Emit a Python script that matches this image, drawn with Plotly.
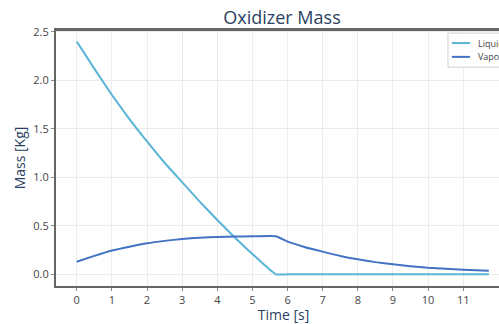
import plotly.graph_objects as go

# Time samples [s]
time_liq = [0, 0.5, 1, 1.5, 2, 2.5, 3, 3.5, 4, 4.5, 5, 5.67, 6, 7, 8, 9, 10, 11, 11.73]
liquid = [2.40, 2.12, 1.85, 1.60, 1.37, 1.15, 0.95, 0.75, 0.56, 0.38, 0.21, 0.0,
          0.0, 0.0, 0.0, 0.0, 0.0, 0.0, 0.0]

time_vap = [0, 0.5, 1, 1.5, 2, 2.5, 3, 3.5, 4, 4.5, 5, 5.67, 6, 6.5, 7, 7.5, 8, 8.5,
            9, 9.5, 10, 10.5, 11, 11.73]
vapor = [0.13, 0.19, 0.245, 0.285, 0.32, 0.345, 0.365, 0.378, 0.386, 0.39, 0.392,
         0.393, 0.337, 0.28, 0.234, 0.19, 0.155, 0.126, 0.103, 0.084, 0.068, 0.057, 0.048,
         0.037]

x_ticks = list(range(0, 12))
y_ticks = [0.0, 0.5, 1.0, 1.5, 2.0, 2.5]
series_names = ["Liquid", "Vapor"]
series_colors = ["#5ab4d6", "#4472c4"]

fig = go.Figure()
fig.add_trace(go.Scatter(x=time_liq, y=liquid, mode="lines", name=series_names[0],
                         line=dict(color=series_colors[0], width=2, shape="spline",
                                   smoothing=0.4)))
fig.add_trace(go.Scatter(x=time_vap, y=vapor, mode="lines", name=series_names[1],
                         line=dict(color=series_colors[1], width=2, shape="spline",
                                   smoothing=0.4)))

# custom legend (clipped at the right window edge like the reference)
lx0, lx1 = 0.8615, 1.0
ly0, ly1 = 0.855, 0.988
shapes = [dict(type="rect", xref="paper", yref="paper", x0=lx0, x1=lx1, y0=ly0, y1=ly1,
               line=dict(color="#d0d0d0", width=1), fillcolor="rgba(255,255,255,0.9)")]
annotations = []
for i, (nm, col) in enumerate(zip(series_names, series_colors)):
    yy = 0.949 - i * 0.054
    shapes.append(dict(type="line", xref="paper", yref="paper", x0=0.870, x1=0.910,
                       y0=yy, y1=yy, line=dict(color=col, width=2)))
    annotations.append(dict(text=nm, xref="paper", yref="paper", x=0.922, y=yy,
                            xanchor="left", yanchor="middle", showarrow=False,
                            font=dict(size=9, color="#444", family="Open Sans")))

fig.update_layout(
    width=511, height=324,
    margin=dict(l=56, r=0, t=30, b=38, autoexpand=False),
    paper_bgcolor="white", plot_bgcolor="white",
    showlegend=False,
    title=dict(text="Oxidizer Mass", x=(282 / 511), xanchor="center", y=1 - 18 / 324,
               yanchor="middle", font=dict(size=18, color="#2a3f5f", family="Open Sans")),
    font=dict(family="Open Sans", color="#444"),
    shapes=shapes, annotations=annotations,
)
fig.update_xaxes(
    range=[-0.59, 12.36], tickvals=x_ticks, ticktext=[str(v) for v in x_ticks],
    showgrid=True, gridcolor="#ececec", gridwidth=1,
    showline=True, linecolor="#666", linewidth=2, mirror=True,
    ticks="outside", ticklen=3, tickcolor="#888", tickfont=dict(size=11, color="#444"),
    zeroline=False, automargin=False,
    title=dict(text="Time [s]", font=dict(size=14, color="#2a3f5f"), standoff=2),
)
fig.update_yaxes(
    range=[-0.12, 2.518], tickvals=y_ticks, ticktext=[f"{v:.1f}" for v in y_ticks],
    showgrid=True, gridcolor="#ececec", gridwidth=1,
    showline=True, linecolor="#666", linewidth=2,
    ticks="outside", ticklen=3, tickcolor="#888", tickfont=dict(size=11, color="#444"),
    zeroline=False, automargin=False,
    title=dict(text="Mass [Kg]", font=dict(size=14, color="#2a3f5f"), standoff=4),
)
# top border line
fig.add_shape(type="line", xref="paper", yref="paper", x0=0, x1=1, y0=1, y1=1,
              line=dict(color="#666", width=2))

page_css = "document.body.style.margin='0';document.body.style.overflow='hidden';"
fig.write_html("out.html", post_script=page_css,
               config={"displayModeBar": False, "staticPlot": True})
